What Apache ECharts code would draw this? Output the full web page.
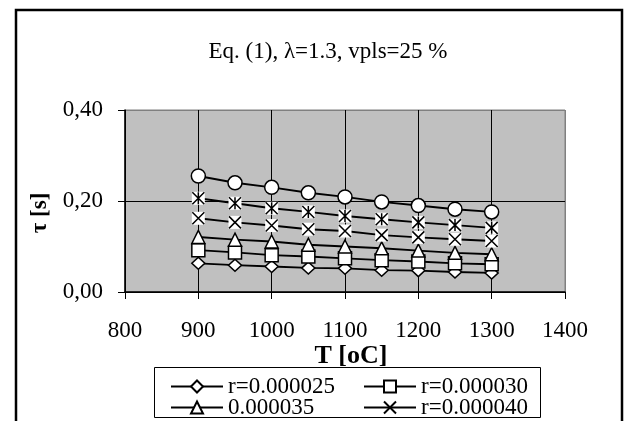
<!DOCTYPE html>
<html>
<head>
<meta charset="utf-8">
<script src="https://cdn.jsdelivr.net/npm/echarts@6/dist/echarts.min.js"></script>
<style>
html,body{margin:0;padding:0;background:#fff;}
#c{width:627px;height:421px;}
</style>
</head>
<body>
<div id="c"></div>
<script>
// ---- data ----
const temps = [900, 950, 1000, 1050, 1100, 1150, 1200, 1250, 1300];
const rDiamond = [0.063, 0.059, 0.056, 0.053, 0.052, 0.048, 0.047, 0.044, 0.042];
const rSquare = [0.092, 0.087, 0.081, 0.078, 0.074, 0.070, 0.067, 0.063, 0.061];
const rTriangle = [0.121, 0.115, 0.111, 0.104, 0.100, 0.096, 0.091, 0.086, 0.083];
const rCross = [0.162, 0.153, 0.146, 0.138, 0.134, 0.125, 0.120, 0.116, 0.112];
const rStar = [0.206, 0.195, 0.184, 0.176, 0.167, 0.160, 0.153, 0.147, 0.141];
const rCircle = [0.255, 0.240, 0.230, 0.218, 0.209, 0.198, 0.190, 0.182, 0.176];
const seriesNames = ['r=0.000025', 'r=0.000030', '0.000035', 'r=0.000040', 'r=0.000045', 'r=0.000050'];
const xTicks = { min: 800, max: 1400, step: 100 };
const yTicks = { min: 0, max: 0.4, step: 0.2 };
const titleText = 'Eq. (1), \u03bb=1.3, vpls=25 %';
const xName = 'T [oC]';
const yName = '\u03c4 [s]';

const FONT = '"Liberation Serif", "Times New Roman", serif';
const pairs = arr => arr.map((v, i) => [temps[i], v]);
const crossPath = 'path://M0,0L10,10M0,10L10,0';
const starPath = 'path://M0,0L10,10M0,10L10,0M5,0L5,10';

function lineSeries(name, data, symbol, size) {
  return {
    name: name, type: 'line', data: pairs(data),
    symbol: symbol, symbolSize: size, showAllSymbol: true,
    lineStyle: { color: '#000', width: 1.9 },
    itemStyle: { color: '#fff', borderColor: '#000', borderWidth: 1.5 },
    emphasis: { disabled: true }, animation: false
  };
}
function bgSeries(data) {
  return {
    name: '_bg', type: 'line', data: pairs(data),
    symbol: 'rect', symbolSize: 13, showAllSymbol: true,
    lineStyle: { width: 0, opacity: 0 },
    itemStyle: { color: '#fff', borderWidth: 0 },
    silent: true, emphasis: { disabled: true }, animation: false
  };
}

function legendAt(name, left, top) {
  return {
    data: [name], left: left, top: top, padding: 0,
    itemWidth: 52, itemHeight: 15, selectedMode: false,
    textStyle: { fontFamily: FONT, fontSize: 23, color: '#000', lineHeight: 22 }
  };
}

const chart = echarts.init(document.getElementById('c'), null, { renderer: 'canvas' });
chart.setOption({
  animation: false,
  backgroundColor: '#fff',
  title: {
    text: titleText, left: 328, top: 40, textAlign: 'center', padding: 0,
    textStyle: { fontFamily: FONT, fontSize: 23, fontWeight: 'normal', color: '#000' }
  },
  graphic: [
    { type: 'rect', shape: { x: 16, y: 10, width: 606, height: 460 },
      style: { fill: 'none', stroke: '#000', lineWidth: 2.5 }, silent: true, z: 0 },
    { type: 'rect', shape: { x: 154.5, y: 367.5, width: 386, height: 50 },
      style: { fill: 'none', stroke: '#000', lineWidth: 1 }, silent: true, z: 0 }
  ],
  legend: [
    legendAt(seriesNames[0], 170, 375),
    legendAt(seriesNames[1], 363, 375),
    legendAt(seriesNames[2], 170, 396),
    legendAt(seriesNames[3], 363, 396)
  ],
  grid: {
    left: 125, top: 110, width: 440, height: 182,
    show: true, backgroundColor: '#c0c0c0', borderColor: '#808080', borderWidth: 1
  },
  xAxis: {
    type: 'value', min: xTicks.min, max: xTicks.max, interval: xTicks.step,
    name: xName, nameLocation: 'middle', nameGap: 44,
    nameTextStyle: { fontFamily: FONT, fontSize: 26, fontWeight: 'bold', color: '#000', padding: [0, 0, 0, 12] },
    axisLine: { show: true, onZero: false, lineStyle: { color: '#000', width: 1.5 } },
    axisTick: { show: true, length: 7, lineStyle: { color: '#000', width: 1 } },
    axisLabel: { margin: 27, fontFamily: FONT, fontSize: 23, color: '#000',
      formatter: v => String(v) },
    splitLine: { show: true, lineStyle: { color: ['#000', '#000', '#000', '#000', '#000', '#000', '#808080'], width: 1 } }
  },
  yAxis: {
    type: 'value', min: yTicks.min, max: yTicks.max, interval: yTicks.step,
    name: yName, nameLocation: 'middle', nameGap: 70, nameRotate: 90,
    nameTextStyle: { fontFamily: FONT, fontSize: 23, fontWeight: 'bold', color: '#000', padding: [0, 0, 0, -24] },
    axisLine: { show: true, lineStyle: { color: '#000', width: 1.5 } },
    axisTick: { show: true, length: 7, lineStyle: { color: '#000', width: 1 } },
    axisLabel: { margin: 22, fontFamily: FONT, fontSize: 23, color: '#000',
      formatter: v => v.toFixed(2).replace('.', ',') },
    splitLine: { show: true, lineStyle: { color: ['#000', '#000', '#808080'], width: 1 } }
  },
  series: [
    lineSeries(seriesNames[0], rDiamond, 'diamond', [13, 12]),
    lineSeries(seriesNames[1], rSquare, 'rect', 13),
    lineSeries(seriesNames[2], rTriangle, 'triangle', 13),
    bgSeries(rCross),
    lineSeries(seriesNames[3], rCross, crossPath, 12),
    bgSeries(rStar),
    lineSeries(seriesNames[4], rStar, starPath, 12),
    lineSeries(seriesNames[5], rCircle, 'circle', 14)
  ]
});
</script>
</body>
</html>
